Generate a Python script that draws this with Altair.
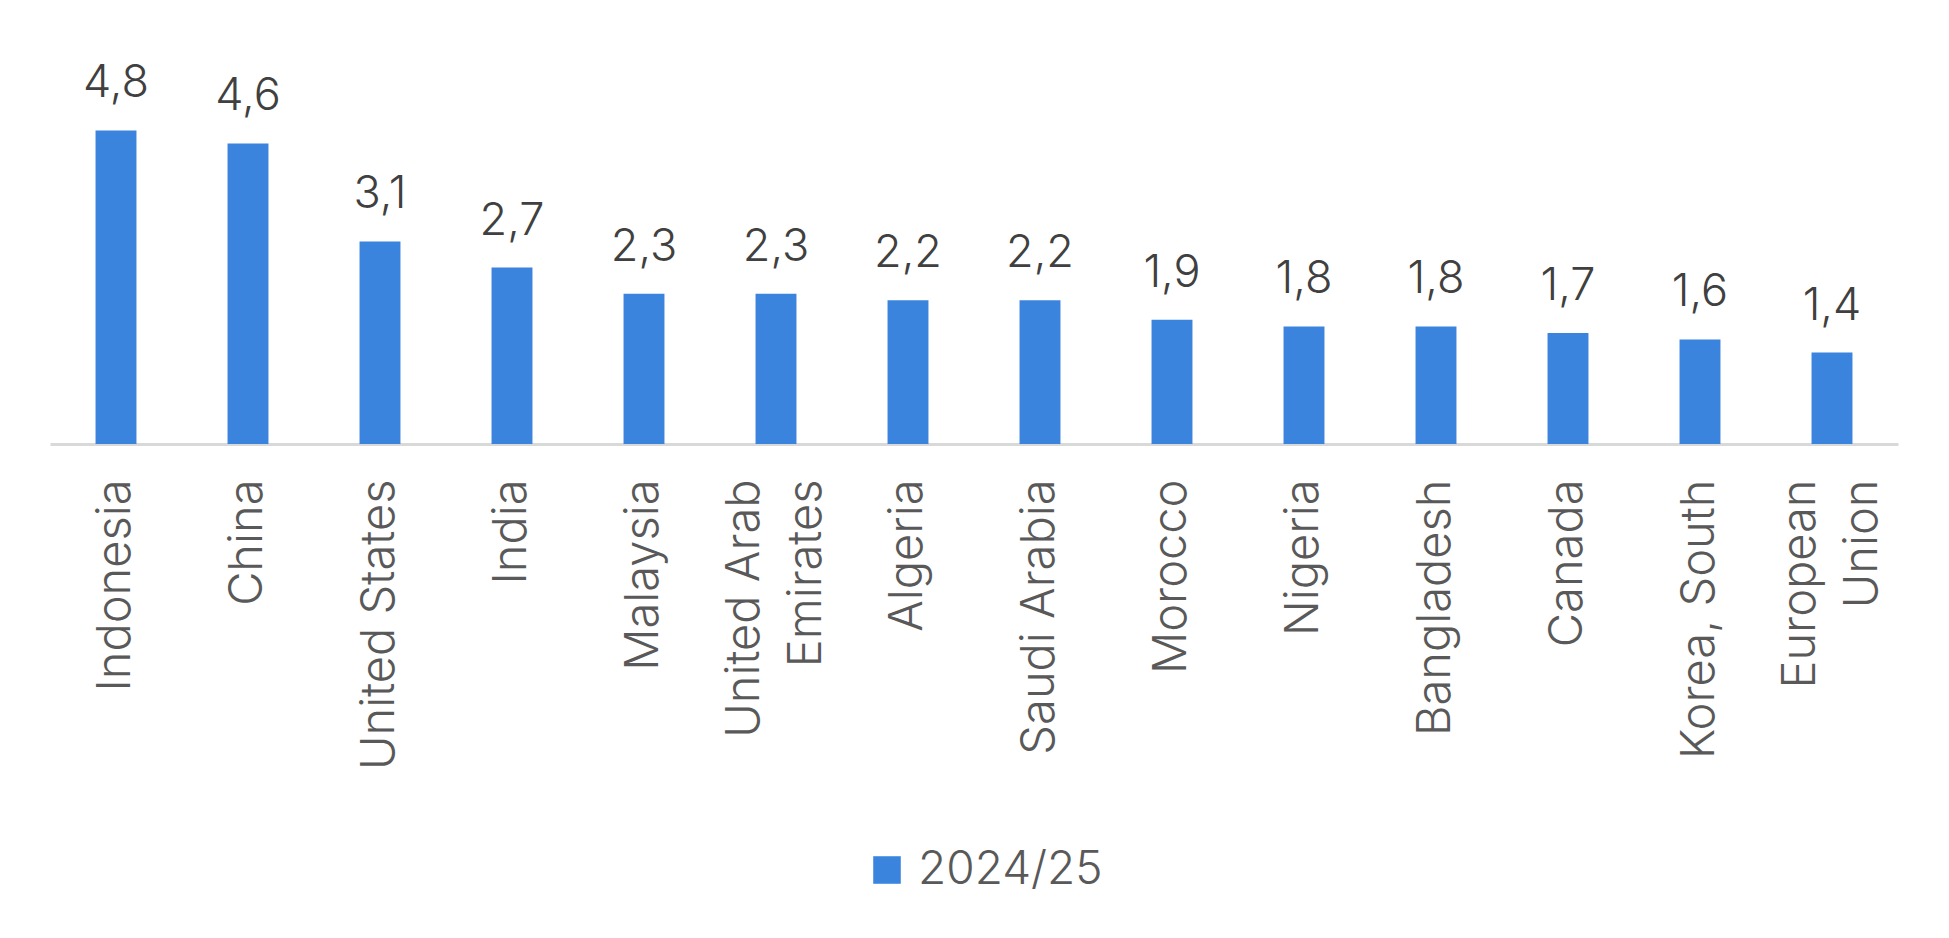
import altair as alt
import pandas as pd

countries = ["Indonesia", "China", "United States", "India", "Malaysia",
             "United Arab Emirates", "Algeria", "Saudi Arabia", "Morocco",
             "Nigeria", "Bangladesh", "Canada", "Korea, South", "European Union"]
values = [4.8, 4.6, 3.1, 2.7, 2.3, 2.3, 2.2, 2.2, 1.9, 1.8, 1.8, 1.7, 1.6, 1.4]
series_name = "2024/25"

df = pd.DataFrame({"country": countries, "value": values, "series": series_name})

FONT = "Inter"
WEIGHT = 300
BLUE = "#3A84DE"

two_line = "datum.label == 'United Arab Emirates' || datum.label == 'European Union'"

x = alt.X(
    "country:N", sort=countries, title=None,
    scale=alt.Scale(paddingInner=0, paddingOuter=0),
    axis=alt.Axis(
        labelAngle=-90, labelFontSize=47, labelColor="#595959", labelFont=FONT,
        labelFontWeight=WEIGHT, labelLimit=0,
        labelPadding=35, ticks=False, tickSize=0, domainColor="#D9D9D9", domainWidth=3,
        labelLineHeight=62, grid=False,
        labelOffset={"condition": {"test": two_line, "value": -31}, "value": 0},
        labelExpr="datum.label == 'United Arab Emirates' ? ['United Arab','Emirates'] : "
                  "datum.label == 'European Union' ? ['European','Union'] : datum.label",
    ),
)
y = alt.Y("value:Q", scale=alt.Scale(domain=[0, 6]), axis=None)

bars = alt.Chart(df).mark_bar(width={"band": 0.31}).encode(
    x=x, y=y,
    color=alt.Color("series:N", scale=alt.Scale(range=[BLUE]),
                    legend=alt.Legend(title=None, orient="none", legendX=814, legendY=795,
                                      symbolType="square", symbolSize=760, symbolStrokeWidth=0,
                                      labelFontSize=46, labelColor="#595959", labelFont=FONT,
                                      labelFontWeight=WEIGHT, labelLimit=0,
                                      padding=0, symbolOffset=0, labelOffset=8)),
)

labels = alt.Chart(df).transform_calculate(
    lbl="replace(format(datum.value, '.1f'), '.', ',')"
).mark_text(fontSize=45, color="#404040", font=FONT, fontWeight=WEIGHT,
            baseline="alphabetic", dy=-33).encode(
    x=alt.X("country:N", sort=countries), y=y, text="lbl:N"
)

chart = (bars + labels).properties(
    width=1848, height=392,
    padding={"left": 42, "top": 44, "right": 5, "bottom": 5},
).configure_view(stroke=None)

chart.save("out.html", embed_options={"renderer": "svg", "actions": False})
